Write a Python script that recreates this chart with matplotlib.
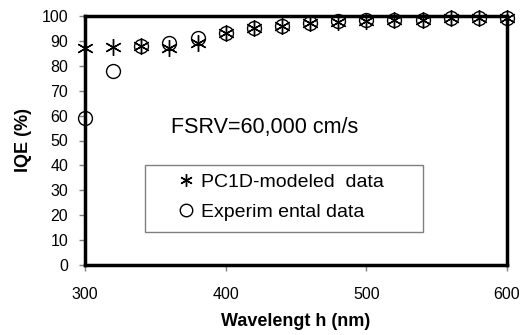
import numpy as np
import matplotlib.pyplot as plt
from matplotlib.patches import Rectangle

plt.rcParams['font.family'] = ['Liberation Sans', 'DejaVu Sans']

wavelength = [300, 320, 340, 360, 380, 400, 420, 440, 460, 480, 500, 520, 540, 560, 580, 600]
iqe_pc1d = [87, 87.5, 88, 87, 89, 93, 95, 96, 97, 97.5, 98, 98.5, 98.5, 99, 99, 99]
iqe_exp = [59, 78, 88, 89, 91, 93, 95, 96, 97, 98, 98.5, 98.5, 98.5, 99, 99, 99]

W, H = 522, 335
fig = plt.figure(figsize=(W / 100, H / 100), dpi=100)
ax = fig.add_axes([85 / W, 1 - 265 / H, 422 / W, 249 / H])

ax.plot(wavelength, iqe_pc1d, linestyle='none', marker=(6, 2, 0), markersize=12,
        markeredgecolor='black', markeredgewidth=1.0, clip_on=False, zorder=3,
        label='PC1D-modeled  data')
ax.plot(wavelength, iqe_exp, linestyle='none', marker='o', markersize=10,
        markerfacecolor='none', markeredgecolor='black', markeredgewidth=1.0,
        clip_on=False, zorder=3, label='Experim ental data')

ax.set_xlim(300, 600)
ax.set_ylim(0, 100)
ax.set_xticks([300, 400, 500, 600])
ax.set_yticks(np.arange(0, 101, 10))
for s in ax.spines.values():
    s.set_linewidth(2.5)
ax.tick_params(axis='both', direction='out', length=4, width=1, color='gray',
               labelsize=11.5, pad=8)
ax.tick_params(axis='x', pad=12)

ax.set_xlabel('Wavelengt h (nm)', fontsize=13, fontweight='bold', labelpad=8)
ax.set_ylabel('IQE (%)', fontsize=13, fontweight='bold', labelpad=7)

ax.text(171 / W, 1 - 127 / H, 'FSRV=60,000 cm/s', transform=fig.transFigure,
        fontsize=15.5, va='center', ha='left')

# legend box drawn separately (asymmetric padding in original)
box = Rectangle((145 / W, 1 - 232 / H), 278 / W, 67 / H, transform=fig.transFigure,
                facecolor='white', edgecolor='gray', linewidth=1, zorder=4,
                clip_on=False)
ax.add_patch(box)
leg = ax.legend(loc='upper left', bbox_to_anchor=(176 / W, 1 - 173 / H),
                bbox_transform=fig.transFigure, frameon=False, fontsize=14,
                borderpad=0, labelspacing=0.65, handletextpad=0.3,
                handlelength=1.0, borderaxespad=0)
leg.set_zorder(5)
for h in leg.legend_handles:
    h.set_markersize(9)

fig.savefig('out.png', dpi=100)
